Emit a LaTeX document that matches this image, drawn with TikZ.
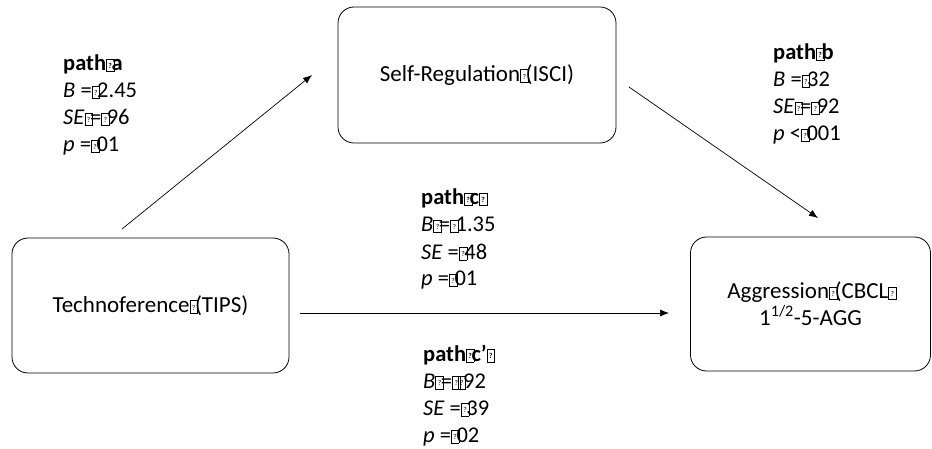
\documentclass[tikz,border=0pt]{standalone}
\usepackage{fontspec}
\setmainfont{Carlito}
\usetikzlibrary{arrows.meta}

% placeholder box for a glyph the font could not show
\newcommand\gb{\makebox[5.5pt][l]{\raisebox{0.3pt}{\fboxsep=0.8pt\fboxrule=0.6pt\fbox{\rule{0pt}{10.5pt}\makebox[5.5pt]{\raisebox{2pt}{\fontsize{7.5}{7.5}\selectfont ?}}}}}}

\begin{document}
\begin{tikzpicture}[x=1pt,y=-1pt,
  varbox/.style={draw, line width=0.8pt, rounded corners=16pt, align=center,
    font=\fontsize{23}{27}\selectfont},
  lab/.style={anchor=base west, inner sep=0pt, font=\fontsize{22.5}{27}\selectfont},
  conn/.style={line width=0.7pt, -{Latex[length=9pt,width=7pt]}}]

\fill[white] (0,0) rectangle (932,449);
\useasboundingbox (0,0) rectangle (932,449);

% variables
\node[varbox, minimum width=278pt, minimum height=136pt] (sr) at (477,75)
  {Self-Regulation\gb(ISCI)};
\node[varbox, minimum width=277pt, minimum height=135pt] (te) at (150.5,305.5)
  {Technoference\gb(TIPS)};
\node[varbox, minimum width=240pt, minimum height=134pt] (ag) at (810.5,304)
  {Aggression\gb(CBCL\gb\\1\textsuperscript{1/2}-5-AGG};

% connector end points
\coordinate (a1s) at (122,229);
\coordinate (a1e) at (312,75);
\coordinate (a2s) at (629,87);
\coordinate (a2e) at (818,218);
\coordinate (a3s) at (300,313);
\coordinate (a3e) at (669,313);

\draw[conn] (a1s) -- (a1e);
\draw[conn] (a2s) -- (a2e);
\draw[conn] (a3s) -- (a3e);

% path a
\node[lab] (pa1) at (63,71) {\textbf{path\gb a}};
\node[lab] (pa2) at (63,98) {\textit{B} =\gb2.45};
\node[lab] (pa3) at (63,125) {\textit{SE}\gb=\gb96};
\node[lab] (pa4) at (63,152) {\textit{p} =\gb01};

% path b
\node[lab] (pb1) at (773,60) {\textbf{path\gb b}};
\node[lab] (pb2) at (773,87) {\textit{B} =\gb32};
\node[lab] (pb3) at (773,114) {\textit{SE}\gb=\gb92};
\node[lab] (pb4) at (773,141) {\textit{p} <\gb001};

% path c
\node[lab] (pc1) at (421,205) {\textbf{path\gb c\gb}};
\node[lab] (pc2) at (421,232) {\textit{B}\gb=\gb1.35};
\node[lab] (pc3) at (421,259) {\textit{SE} =\gb48};
\node[lab] (pc4) at (421,286) {\textit{p} =\gb01};

% path c'
\node[lab] (pd1) at (423,361) {\textbf{path\gb c’\gb}};
\node[lab] (pd2) at (423,388) {\textit{B}\gb=\gb\gb92};
\node[lab] (pd3) at (423,415) {\textit{SE} =\gb39};
\node[lab] (pd4) at (423,442) {\textit{p} =\gb02};

\end{tikzpicture}
\end{document}
